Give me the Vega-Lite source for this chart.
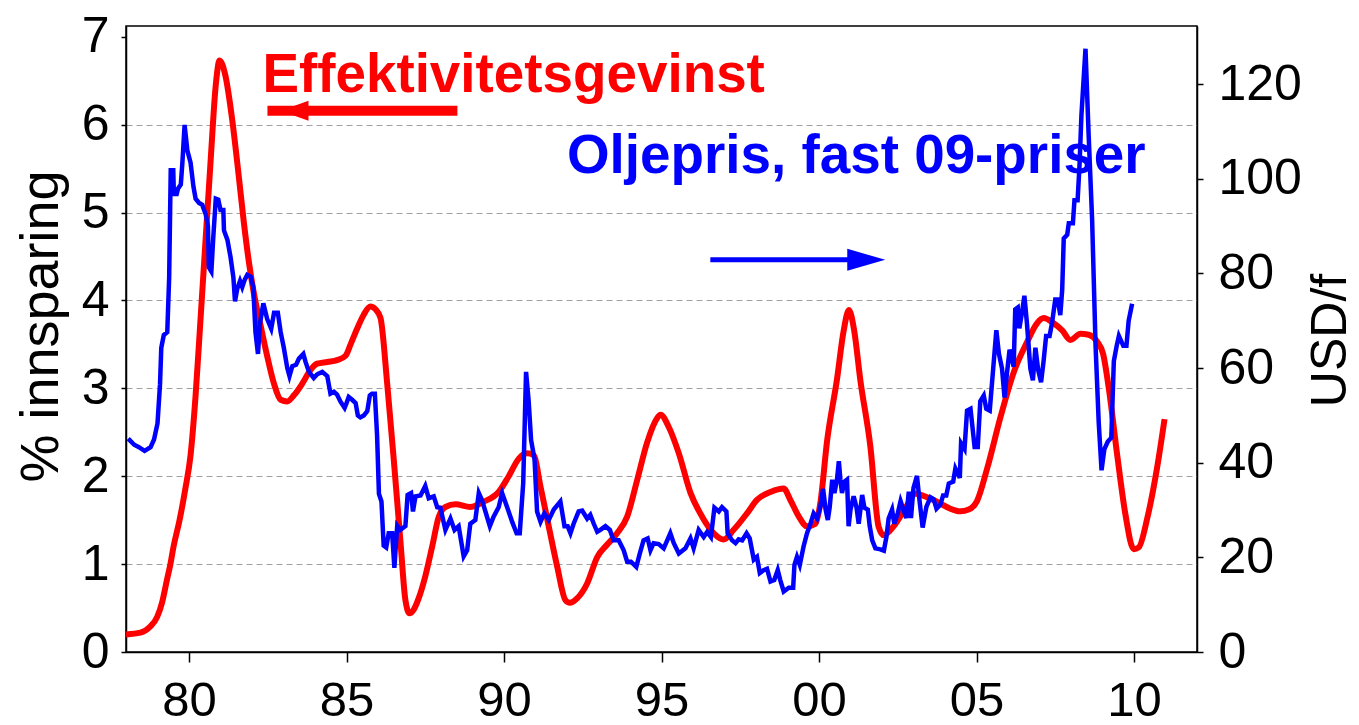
{
  "$schema": "https://vega.github.io/schema/vega-lite/v6.json",
  "width": 1071,
  "height": 626,
  "autosize": {"type": "none"},
  "padding": {"left": 126, "top": 26, "right": 162, "bottom": 73},
  "background": "white",
  "config": {
    "font": "Liberation Sans",
    "view": {"stroke": "black", "strokeWidth": 1.5},
    "axis": {"domainColor": "black", "domainWidth": 1.5, "tickColor": "black", "tickWidth": 1.5, "labelColor": "black", "titleColor": "black", "labelFont": "Liberation Sans", "titleFont": "Liberation Sans"}
  },
  "datasets": {
    "eff": [
      {"t":1978.0,"v":0.2},{"t":1978.46,"v":0.22},{"t":1978.77,"v":0.29},{"t":1978.99,"v":0.4},{"t":1979.15,"v":0.57},{"t":1979.3,"v":0.82},{"t":1979.41,"v":1.0},{"t":1979.51,"v":1.2},{"t":1979.7,"v":1.5},{"t":1979.88,"v":1.85},{"t":1980.05,"v":2.24},{"t":1980.21,"v":2.92},{"t":1980.37,"v":3.81},{"t":1980.53,"v":4.71},{"t":1980.69,"v":5.61},{"t":1980.85,"v":6.45},{"t":1980.97,"v":6.73},{"t":1981.16,"v":6.55},{"t":1981.37,"v":6.06},{"t":1981.59,"v":5.38},{"t":1981.74,"v":4.89},{"t":1981.9,"v":4.44},{"t":1982.06,"v":4.08},{"t":1982.27,"v":3.72},{"t":1982.48,"v":3.37},{"t":1982.7,"v":3.05},{"t":1982.91,"v":2.87},{"t":1983.12,"v":2.85},{"t":1983.33,"v":2.92},{"t":1983.59,"v":3.05},{"t":1983.86,"v":3.21},{"t":1984.07,"v":3.28},{"t":1984.39,"v":3.3},{"t":1984.7,"v":3.32},{"t":1984.97,"v":3.37},{"t":1985.13,"v":3.5},{"t":1985.34,"v":3.68},{"t":1985.55,"v":3.84},{"t":1985.76,"v":3.93},{"t":1985.92,"v":3.9},{"t":1986.08,"v":3.8},{"t":1986.29,"v":3.06},{"t":1986.5,"v":2.19},{"t":1986.71,"v":1.27},{"t":1986.87,"v":0.59},{"t":1987.0,"v":0.44},{"t":1987.13,"v":0.48},{"t":1987.29,"v":0.61},{"t":1987.5,"v":0.86},{"t":1987.72,"v":1.2},{"t":1987.93,"v":1.54},{"t":1988.14,"v":1.65},{"t":1988.46,"v":1.68},{"t":1988.93,"v":1.65},{"t":1989.36,"v":1.71},{"t":1989.83,"v":1.82},{"t":1990.15,"v":2.0},{"t":1990.47,"v":2.2},{"t":1990.73,"v":2.26},{"t":1990.94,"v":2.24},{"t":1991.16,"v":1.88},{"t":1991.42,"v":1.43},{"t":1991.69,"v":0.97},{"t":1991.95,"v":0.59},{"t":1992.09,"v":0.56},{"t":1992.32,"v":0.61},{"t":1992.64,"v":0.78},{"t":1992.96,"v":1.08},{"t":1993.27,"v":1.22},{"t":1993.59,"v":1.35},{"t":1993.91,"v":1.54},{"t":1994.23,"v":1.96},{"t":1994.54,"v":2.38},{"t":1994.86,"v":2.66},{"t":1994.97,"v":2.7},{"t":1995.23,"v":2.56},{"t":1995.55,"v":2.26},{"t":1995.92,"v":1.81},{"t":1996.29,"v":1.54},{"t":1996.66,"v":1.35},{"t":1996.97,"v":1.28},{"t":1997.29,"v":1.39},{"t":1997.72,"v":1.58},{"t":1998.03,"v":1.73},{"t":1998.46,"v":1.82},{"t":1998.88,"v":1.86},{"t":1999.09,"v":1.73},{"t":1999.36,"v":1.54},{"t":1999.62,"v":1.43},{"t":1999.89,"v":1.46},{"t":2000.04,"v":1.69},{"t":2000.26,"v":2.41},{"t":2000.57,"v":3.1},{"t":2000.78,"v":3.65},{"t":2000.95,"v":3.89},{"t":2001.12,"v":3.65},{"t":2001.31,"v":3.1},{"t":2001.63,"v":2.34},{"t":2001.89,"v":1.43},{"t":2002.05,"v":1.33},{"t":2002.37,"v":1.43},{"t":2002.8,"v":1.67},{"t":2003.06,"v":1.8},{"t":2003.43,"v":1.76},{"t":2003.85,"v":1.69},{"t":2004.17,"v":1.63},{"t":2004.49,"v":1.6},{"t":2004.75,"v":1.62},{"t":2005.02,"v":1.72},{"t":2005.34,"v":2.09},{"t":2005.76,"v":2.67},{"t":2006.18,"v":3.18},{"t":2006.61,"v":3.53},{"t":2006.92,"v":3.74},{"t":2007.13,"v":3.8},{"t":2007.45,"v":3.74},{"t":2007.72,"v":3.66},{"t":2007.98,"v":3.55},{"t":2008.3,"v":3.62},{"t":2008.56,"v":3.61},{"t":2008.83,"v":3.53},{"t":2009.02,"v":3.39},{"t":2009.2,"v":3.0},{"t":2009.46,"v":2.26},{"t":2009.73,"v":1.56},{"t":2009.99,"v":1.17},{"t":2010.15,"v":1.19},{"t":2010.42,"v":1.52},{"t":2010.73,"v":2.09},{"t":2010.97,"v":2.65}
    ],
    "oil": [
      {"t":1978.07,"p":45.1},{"t":1978.26,"p":43.8},{"t":1978.41,"p":43.3},{"t":1978.59,"p":42.5},{"t":1978.78,"p":43.3},{"t":1978.89,"p":44.9},{"t":1979.0,"p":48.3},{"t":1979.08,"p":56.6},{"t":1979.12,"p":64.3},{"t":1979.2,"p":67.0},{"t":1979.31,"p":67.6},{"t":1979.37,"p":79.1},{"t":1979.42,"p":101.8},{"t":1979.5,"p":101.8},{"t":1979.52,"p":96.8},{"t":1979.61,"p":96.8},{"t":1979.65,"p":97.9},{"t":1979.74,"p":98.8},{"t":1979.79,"p":103.4},{"t":1979.86,"p":111.4},{"t":1979.95,"p":105.9},{"t":1980.05,"p":103.4},{"t":1980.14,"p":98.4},{"t":1980.21,"p":95.8},{"t":1980.32,"p":94.9},{"t":1980.42,"p":94.5},{"t":1980.53,"p":92.5},{"t":1980.6,"p":90.1},{"t":1980.63,"p":81.3},{"t":1980.71,"p":80.4},{"t":1980.77,"p":87.5},{"t":1980.85,"p":95.8},{"t":1980.93,"p":95.6},{"t":1981.0,"p":93.4},{"t":1981.09,"p":93.4},{"t":1981.11,"p":89.1},{"t":1981.22,"p":87.1},{"t":1981.32,"p":83.4},{"t":1981.41,"p":79.1},{"t":1981.46,"p":74.1},{"t":1981.53,"p":76.7},{"t":1981.62,"p":78.4},{"t":1981.69,"p":77.1},{"t":1981.77,"p":78.7},{"t":1981.85,"p":79.7},{"t":1981.96,"p":79.3},{"t":1982.04,"p":77.1},{"t":1982.11,"p":67.6},{"t":1982.19,"p":63.0},{"t":1982.25,"p":69.3},{"t":1982.36,"p":73.7},{"t":1982.48,"p":70.4},{"t":1982.61,"p":68.3},{"t":1982.7,"p":71.7},{"t":1982.82,"p":71.7},{"t":1982.91,"p":67.6},{"t":1983.01,"p":64.3},{"t":1983.12,"p":60.0},{"t":1983.19,"p":58.3},{"t":1983.28,"p":60.4},{"t":1983.4,"p":60.7},{"t":1983.49,"p":62.0},{"t":1983.63,"p":63.0},{"t":1983.7,"p":61.3},{"t":1983.81,"p":59.2},{"t":1983.96,"p":57.9},{"t":1984.07,"p":58.7},{"t":1984.23,"p":59.2},{"t":1984.39,"p":58.3},{"t":1984.49,"p":54.6},{"t":1984.6,"p":55.0},{"t":1984.7,"p":54.4},{"t":1984.81,"p":52.9},{"t":1984.94,"p":51.6},{"t":1985.0,"p":52.6},{"t":1985.07,"p":53.9},{"t":1985.18,"p":53.3},{"t":1985.29,"p":52.6},{"t":1985.36,"p":50.0},{"t":1985.44,"p":49.6},{"t":1985.55,"p":50.0},{"t":1985.66,"p":50.9},{"t":1985.74,"p":54.2},{"t":1985.81,"p":54.6},{"t":1985.9,"p":54.6},{"t":1985.97,"p":45.9},{"t":1986.03,"p":33.4},{"t":1986.11,"p":31.8},{"t":1986.18,"p":22.5},{"t":1986.26,"p":22.1},{"t":1986.34,"p":25.1},{"t":1986.45,"p":25.1},{"t":1986.52,"p":17.8},{"t":1986.61,"p":26.7},{"t":1986.71,"p":25.8},{"t":1986.87,"p":26.6},{"t":1986.94,"p":33.2},{"t":1987.05,"p":33.6},{"t":1987.11,"p":29.7},{"t":1987.19,"p":32.9},{"t":1987.35,"p":33.1},{"t":1987.5,"p":35.1},{"t":1987.61,"p":32.5},{"t":1987.77,"p":32.9},{"t":1987.88,"p":30.6},{"t":1987.98,"p":30.5},{"t":1988.14,"p":25.8},{"t":1988.3,"p":28.2},{"t":1988.43,"p":25.8},{"t":1988.56,"p":26.6},{"t":1988.72,"p":20.2},{"t":1988.83,"p":21.5},{"t":1988.93,"p":27.1},{"t":1989.09,"p":27.9},{"t":1989.2,"p":33.6},{"t":1989.3,"p":32.1},{"t":1989.41,"p":29.7},{"t":1989.55,"p":26.6},{"t":1989.67,"p":28.6},{"t":1989.83,"p":30.6},{"t":1989.94,"p":33.6},{"t":1990.1,"p":30.6},{"t":1990.26,"p":27.5},{"t":1990.4,"p":25.1},{"t":1990.5,"p":25.1},{"t":1990.61,"p":35.7},{"t":1990.7,"p":59.2},{"t":1990.78,"p":53.3},{"t":1990.86,"p":44.8},{"t":1990.97,"p":40.7},{"t":1991.05,"p":29.7},{"t":1991.16,"p":27.5},{"t":1991.28,"p":29.3},{"t":1991.42,"p":27.9},{"t":1991.58,"p":30.1},{"t":1991.79,"p":31.8},{"t":1991.92,"p":26.6},{"t":1992.02,"p":26.6},{"t":1992.11,"p":25.1},{"t":1992.21,"p":27.1},{"t":1992.37,"p":29.7},{"t":1992.48,"p":29.9},{"t":1992.64,"p":28.2},{"t":1992.74,"p":29.0},{"t":1992.85,"p":27.1},{"t":1992.96,"p":25.4},{"t":1993.06,"p":25.8},{"t":1993.22,"p":26.6},{"t":1993.36,"p":25.8},{"t":1993.48,"p":23.6},{"t":1993.64,"p":23.6},{"t":1993.8,"p":21.5},{"t":1993.91,"p":19.1},{"t":1994.03,"p":19.1},{"t":1994.2,"p":18.0},{"t":1994.31,"p":20.8},{"t":1994.43,"p":23.6},{"t":1994.56,"p":24.0},{"t":1994.65,"p":21.5},{"t":1994.75,"p":23.0},{"t":1994.91,"p":22.8},{"t":1995.07,"p":21.9},{"t":1995.28,"p":25.1},{"t":1995.39,"p":23.0},{"t":1995.55,"p":20.8},{"t":1995.76,"p":21.9},{"t":1995.92,"p":24.0},{"t":1996.02,"p":21.9},{"t":1996.18,"p":25.8},{"t":1996.34,"p":24.3},{"t":1996.45,"p":25.4},{"t":1996.57,"p":24.3},{"t":1996.68,"p":30.5},{"t":1996.82,"p":29.7},{"t":1996.92,"p":30.6},{"t":1997.06,"p":29.7},{"t":1997.1,"p":25.1},{"t":1997.24,"p":23.6},{"t":1997.35,"p":23.0},{"t":1997.45,"p":23.8},{"t":1997.56,"p":23.6},{"t":1997.7,"p":25.1},{"t":1997.8,"p":24.0},{"t":1997.93,"p":19.5},{"t":1998.03,"p":20.1},{"t":1998.12,"p":16.7},{"t":1998.24,"p":17.3},{"t":1998.35,"p":17.6},{"t":1998.46,"p":14.9},{"t":1998.58,"p":15.2},{"t":1998.69,"p":17.3},{"t":1998.77,"p":15.2},{"t":1998.88,"p":12.8},{"t":1999.04,"p":13.6},{"t":1999.18,"p":13.6},{"t":1999.22,"p":18.4},{"t":1999.3,"p":20.1},{"t":1999.39,"p":18.4},{"t":1999.51,"p":22.3},{"t":1999.62,"p":25.1},{"t":1999.73,"p":27.1},{"t":1999.83,"p":29.3},{"t":1999.94,"p":28.2},{"t":2000.04,"p":30.6},{"t":2000.13,"p":34.5},{"t":2000.21,"p":30.1},{"t":2000.28,"p":27.9},{"t":2000.34,"p":30.6},{"t":2000.42,"p":36.4},{"t":2000.49,"p":33.6},{"t":2000.57,"p":36.4},{"t":2000.63,"p":40.3},{"t":2000.68,"p":36.4},{"t":2000.73,"p":33.6},{"t":2000.81,"p":36.0},{"t":2000.89,"p":36.4},{"t":2000.94,"p":26.6},{"t":2001.0,"p":30.1},{"t":2001.1,"p":32.9},{"t":2001.19,"p":30.6},{"t":2001.26,"p":27.1},{"t":2001.37,"p":33.2},{"t":2001.44,"p":30.5},{"t":2001.55,"p":30.1},{"t":2001.61,"p":26.6},{"t":2001.69,"p":23.6},{"t":2001.79,"p":21.9},{"t":2001.95,"p":21.7},{"t":2002.06,"p":21.4},{"t":2002.14,"p":24.3},{"t":2002.21,"p":28.2},{"t":2002.32,"p":30.1},{"t":2002.39,"p":27.1},{"t":2002.5,"p":29.3},{"t":2002.59,"p":31.9},{"t":2002.77,"p":28.3},{"t":2002.85,"p":33.9},{"t":2002.92,"p":28.3},{"t":2003.0,"p":34.7},{"t":2003.11,"p":37.2},{"t":2003.2,"p":31.5},{"t":2003.29,"p":26.3},{"t":2003.41,"p":30.7},{"t":2003.54,"p":32.7},{"t":2003.64,"p":32.3},{"t":2003.73,"p":30.3},{"t":2003.85,"p":31.1},{"t":2003.94,"p":33.1},{"t":2004.04,"p":33.1},{"t":2004.12,"p":35.6},{"t":2004.26,"p":36.0},{"t":2004.33,"p":38.8},{"t":2004.47,"p":36.8},{"t":2004.51,"p":44.1},{"t":2004.62,"p":42.9},{"t":2004.7,"p":51.0},{"t":2004.81,"p":51.4},{"t":2004.94,"p":43.3},{"t":2005.04,"p":43.3},{"t":2005.12,"p":53.0},{"t":2005.23,"p":54.2},{"t":2005.31,"p":51.4},{"t":2005.42,"p":51.0},{"t":2005.53,"p":59.9},{"t":2005.63,"p":68.0},{"t":2005.71,"p":63.1},{"t":2005.81,"p":59.9},{"t":2005.89,"p":53.8},{"t":2005.97,"p":59.1},{"t":2006.05,"p":63.9},{"t":2006.18,"p":60.3},{"t":2006.23,"p":72.4},{"t":2006.31,"p":72.8},{"t":2006.36,"p":68.4},{"t":2006.45,"p":72.0},{"t":2006.52,"p":75.3},{"t":2006.6,"p":69.6},{"t":2006.71,"p":59.9},{"t":2006.79,"p":57.4},{"t":2006.87,"p":64.3},{"t":2006.96,"p":59.5},{"t":2007.05,"p":57.0},{"t":2007.13,"p":61.5},{"t":2007.21,"p":66.8},{"t":2007.32,"p":66.8},{"t":2007.4,"p":69.6},{"t":2007.5,"p":74.5},{"t":2007.58,"p":74.5},{"t":2007.66,"p":71.2},{"t":2007.72,"p":76.5},{"t":2007.77,"p":87.4},{"t":2007.88,"p":88.2},{"t":2007.93,"p":90.6},{"t":2008.06,"p":90.6},{"t":2008.11,"p":95.5},{"t":2008.21,"p":95.5},{"t":2008.27,"p":102.8},{"t":2008.33,"p":113.3},{"t":2008.46,"p":127.5},{"t":2008.56,"p":109.3},{"t":2008.67,"p":91.5},{"t":2008.78,"p":64.7},{"t":2008.88,"p":48.5},{"t":2008.97,"p":38.4},{"t":2009.06,"p":42.9},{"t":2009.17,"p":44.5},{"t":2009.28,"p":45.3},{"t":2009.36,"p":61.5},{"t":2009.45,"p":64.7},{"t":2009.52,"p":66.8},{"t":2009.66,"p":64.7},{"t":2009.76,"p":64.7},{"t":2009.83,"p":70.0},{"t":2009.94,"p":73.6}
    ],
    "labels": [
      {"t": 1982.33, "v": 6.375, "label": "Effektivitetsgevinst", "series": "eff"},
      {"t": 1992.0, "v": 5.45, "label": "Oljepris, fast 09-priser", "series": "oil"}
    ],
    "arrows": [
      {"t": 1982.49, "t2": 1988.52, "v": 6.158, "series": "eff"},
      {"t": 1996.55, "t2": 2001.0, "v": 4.462, "series": "oil"}
    ],
    "heads": [
      {"t": 1983.35, "v": 6.158, "series": "eff"},
      {"t": 2001.5, "v": 4.462, "series": "oil"}
    ]
  },
  "layer": [
    {
      "data": {"name": "eff"},
      "mark": {"type": "line", "color": "#ff0000", "strokeWidth": 6, "interpolate": "monotone"},
      "encoding": {
        "x": {"field": "t", "type": "quantitative",
          "scale": {"domain": [1978, 2012], "nice": false, "zero": false},
          "axis": {"values": [1980, 1985, 1990, 1995, 2000, 2005, 2010], "labelExpr": "format(datum.value % 100, '02d')", "tickSize": 10, "labelPadding": 14, "labelFontSize": 49, "grid": false, "title": null, "labelFlush": false, "labelOverlap": false}},
        "y": {"field": "v", "type": "quantitative",
          "scale": {"domain": [0, 7.122], "nice": false, "zero": false},
          "axis": {"orient": "left", "values": [0, 1, 2, 3, 4, 5, 6, 7], "grid": true, "gridDash": [6, 4], "gridColor": "#a0a0a0", "gridWidth": 1,
            "gridOpacity": {"condition": {"test": "datum.value <= 0 || datum.value >= 7", "value": 0}, "value": 1},
            "tickSize": 5, "labelPadding": 12, "labelFontSize": 50, "labelOverlap": false,
            "title": "% innsparing", "titleFontSize": 54, "titleFontWeight": "normal", "titleAngle": 270, "titleX": -85, "titleY": 300, "titleAlign": "center", "titleBaseline": "middle"}}
      }
    },
    {
      "data": {"name": "oil"},
      "mark": {"type": "line", "color": "#0000ff", "strokeWidth": 4.5, "strokeJoin": "miter"},
      "encoding": {
        "x": {"field": "t", "type": "quantitative"},
        "y": {"field": "p", "type": "quantitative",
          "scale": {"domain": [0, 132.3], "nice": false, "zero": false},
          "axis": {"orient": "right", "values": [0, 20, 40, 60, 80, 100, 120], "grid": false, "tickSize": 6, "labelPadding": 15, "labelFontSize": 50, "labelOverlap": false,
            "title": "USD/f", "titleFontSize": 50, "titleFontWeight": "normal", "titleAngle": 270, "titleX": 133, "titleY": 314, "titleAlign": "center", "titleBaseline": "middle"}}
      }
    },
    {
      "data": {"name": "labels"},
      "mark": {"type": "text", "font": "Liberation Sans", "fontWeight": "bold", "fontSize": 54.8, "align": "left", "baseline": "alphabetic"},
      "encoding": {
        "x": {"field": "t", "type": "quantitative"},
        "y": {"field": "v", "type": "quantitative", "scale": {"domain": [0, 7.122], "nice": false, "zero": false}, "axis": null},
        "text": {"field": "label"},
        "color": {"field": "series", "type": "nominal", "scale": {"domain": ["eff", "oil"], "range": ["#ff0000", "#0000ff"]}, "legend": null}
      }
    },
    {
      "data": {"name": "arrows"},
      "transform": [{"filter": "datum.series === 'eff'"}],
      "mark": {"type": "rule", "color": "#ff0000", "strokeWidth": 10},
      "encoding": {
        "x": {"field": "t", "type": "quantitative"},
        "x2": {"field": "t2"},
        "y": {"field": "v", "type": "quantitative", "scale": {"domain": [0, 7.122], "nice": false, "zero": false}, "axis": null}
      }
    },
    {
      "data": {"name": "arrows"},
      "transform": [{"filter": "datum.series === 'oil'"}],
      "mark": {"type": "rule", "color": "#0000ff", "strokeWidth": 5},
      "encoding": {
        "x": {"field": "t", "type": "quantitative"},
        "x2": {"field": "t2"},
        "y": {"field": "v", "type": "quantitative", "scale": {"domain": [0, 7.122], "nice": false, "zero": false}, "axis": null}
      }
    },
    {
      "data": {"name": "heads"},
      "transform": [{"filter": "datum.series === 'eff'"}],
      "mark": {"type": "point", "shape": "M -1 0 L 1 -0.72 L 1 0.72 Z", "size": 784, "filled": true, "color": "#ff0000", "opacity": 1, "strokeWidth": 0},
      "encoding": {
        "x": {"field": "t", "type": "quantitative"},
        "y": {"field": "v", "type": "quantitative", "scale": {"domain": [0, 7.122], "nice": false, "zero": false}, "axis": null}
      }
    },
    {
      "data": {"name": "heads"},
      "transform": [{"filter": "datum.series === 'oil'"}],
      "mark": {"type": "point", "shape": "M 1 0 L -1 -0.58 L -1 0.58 Z", "size": 1444, "filled": true, "color": "#0000ff", "opacity": 1, "strokeWidth": 0},
      "encoding": {
        "x": {"field": "t", "type": "quantitative"},
        "y": {"field": "v", "type": "quantitative", "scale": {"domain": [0, 7.122], "nice": false, "zero": false}, "axis": null}
      }
    }
  ],
  "resolve": {"scale": {"y": "independent"}}
}
